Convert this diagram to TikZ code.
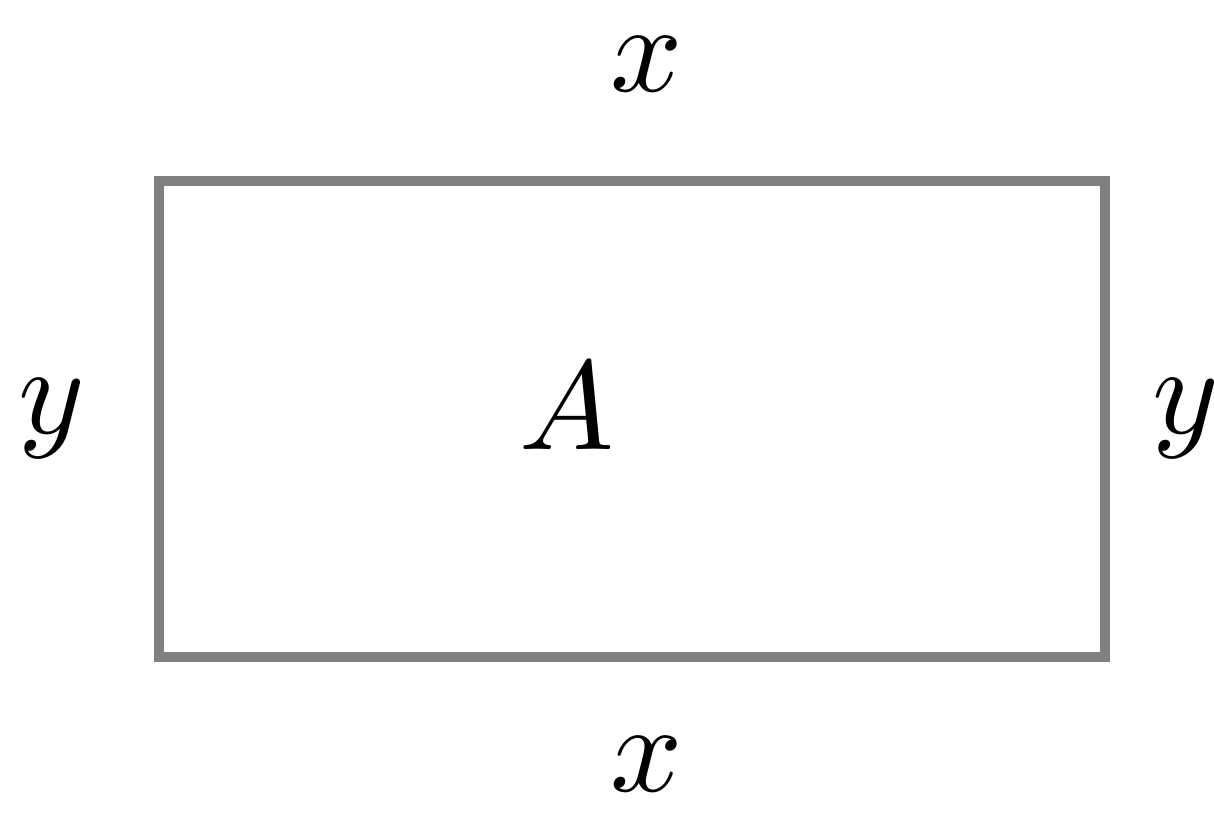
\documentclass[tikz,border=0pt]{standalone}
\usepackage{xcolor}
\usepackage{tikz}
\usetikzlibrary{positioning}

\begin{document}
\begin{tikzpicture}[
    box/.style={rectangle, draw=black!50, line width=1mm, minimum width=9.46cm, minimum height=4.76cm},
    lbl/.style={inner sep=0pt, scale=3.6},
]
\useasboundingbox (0,0) rectangle (12.14,8.15);

\node[box] (field) at (6.32,3.96) {};
\node[lbl] (area) at (5.67,4.09) {$A$};

% side lengths
\node[lbl, above=0.82cm of field.north, xshift=0.4mm] (xtop) {$x$};
\node[lbl, below=0.73cm of field.south, xshift=0.4mm] (xbot) {$x$};
\node[lbl, left=0.66cm of field.west] (yleft) {$y$};
\node[lbl, right=0.4cm of field.east] (yright) {$y$};

\end{tikzpicture}
\end{document}
